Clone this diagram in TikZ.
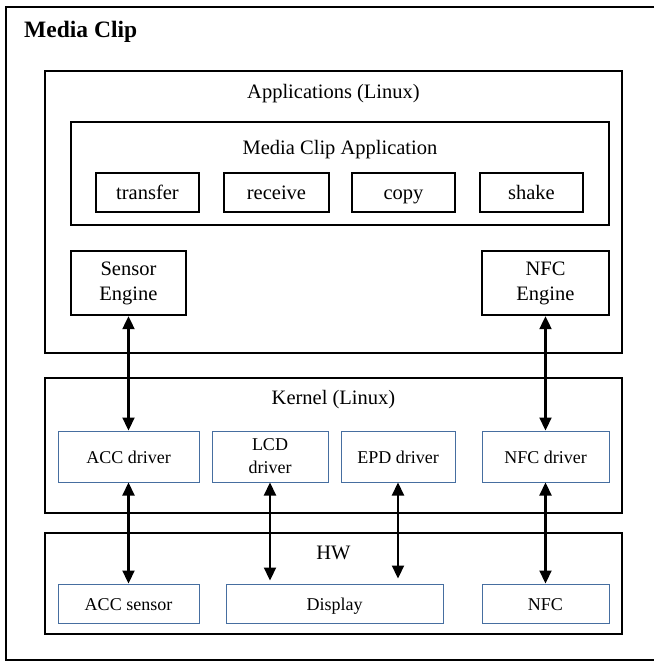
\documentclass[tikz,border=0pt]{standalone}
\usepackage{fontspec}
\setmainfont{Liberation Serif}
\usetikzlibrary{arrows.meta}
\definecolor{bluebox}{RGB}{70,110,160}
\begin{document}
\begin{tikzpicture}[x=1pt,y=-1pt,
  bk/.style={draw=black, line width=2.4pt, fill=white, inner sep=0pt, font=\fontsize{20.5}{25}\selectfont, align=center},
  bl/.style={draw=bluebox, line width=1pt, fill=white, inner sep=0pt, font=\fontsize{18}{23}\selectfont, align=center},
  slk/.style={text height=18pt, text depth=4pt},
  sll/.style={text height=16pt, text depth=3pt},
  ttl/.style={inner sep=0pt, font=\fontsize{20.5}{25}\selectfont},
  conn/.style={line width=2.2pt, {Triangle[length=13pt,width=12pt]}-{Triangle[length=13pt,width=12pt]}}]
\useasboundingbox (0,0) rectangle (654,662);
\fill[white] (0,0) rectangle (654,662);
% outer frame (right side runs off the picture)
\draw[line width=1.6pt] (654,7) -- (6,7) -- (6,660) -- (654,660);
\node[anchor=west, inner sep=0pt, font=\fontsize{23.5}{28}\selectfont\bfseries] (title) at (24,32) {Media Clip};

% Applications layer
\node[bk, minimum width=577pt, minimum height=282pt] (apps) at (333.5,212) {};
\node[ttl] (appst) at (333.5,94) {Applications (Linux)};
\node[bk, minimum width=538pt, minimum height=103pt] (mca) at (340,173.5) {};
\node[ttl] (mcat) at (340,150) {Media Clip Application};
\node[bk, slk, minimum width=103pt, minimum height=39pt] (transfer) at (147.5,192.5) {transfer};
\node[bk, slk, minimum width=105pt, minimum height=39pt] (receive) at (276.5,192.5) {receive};
\node[bk, slk, minimum width=103pt, minimum height=39pt] (copy) at (403.5,192.5) {copy};
\node[bk, slk, minimum width=103pt, minimum height=39pt] (shake) at (531.5,192.5) {shake};
\node[bk, minimum width=115pt, minimum height=64pt] (sensor) at (128.5,283) {Sensor\\Engine};
\node[bk, minimum width=127pt, minimum height=64pt] (nfce) at (545.5,283) {NFC\\Engine};

% Kernel layer
\node[bk, minimum width=577pt, minimum height=135pt] (kernel) at (333.5,445.5) {};
\node[ttl] (kernelt) at (333.5,400) {Kernel (Linux)};
\node[bl, sll, minimum width=141pt, minimum height=51pt] (accd) at (128.5,456.5) {ACC driver};
\node[bl, minimum width=116pt, minimum height=51pt] (lcd) at (270,456.5) {LCD\\driver};
\node[bl, sll, minimum width=114pt, minimum height=51pt] (epd) at (398,456.5) {EPD driver};
\node[bl, sll, minimum width=127pt, minimum height=51pt] (nfcd) at (545.5,456.5) {NFC driver};

% HW layer
\node[bk, minimum width=577pt, minimum height=101pt] (hw) at (333.5,583.5) {};
\node[ttl] (hwt) at (333.5,553) {HW};
\node[bl, sll, minimum width=141pt, minimum height=39pt] (accs) at (128.5,603.5) {ACC sensor};
\node[bl, sll, minimum width=217pt, minimum height=39pt] (display) at (334.5,603.5) {Display};
\node[bl, sll, minimum width=127pt, minimum height=39pt] (nfc) at (545.5,603.5) {NFC};

% connectors
\coordinate (lcdend) at (lcd.south |- display.north);
\coordinate (epdend) at (epd.south |- display.north);
\draw[conn] (sensor.south) -- (accd.north);
\draw[conn] (accd.south) -- (accs.north);
\draw[conn, shorten >=3pt] (lcd.south) -- (lcdend);
\draw[conn, shorten >=5pt] (epd.south) -- (epdend);
\draw[conn] (nfce.south) -- (nfcd.north);
\draw[conn] (nfcd.south) -- (nfc.north);
\end{tikzpicture}
\end{document}
